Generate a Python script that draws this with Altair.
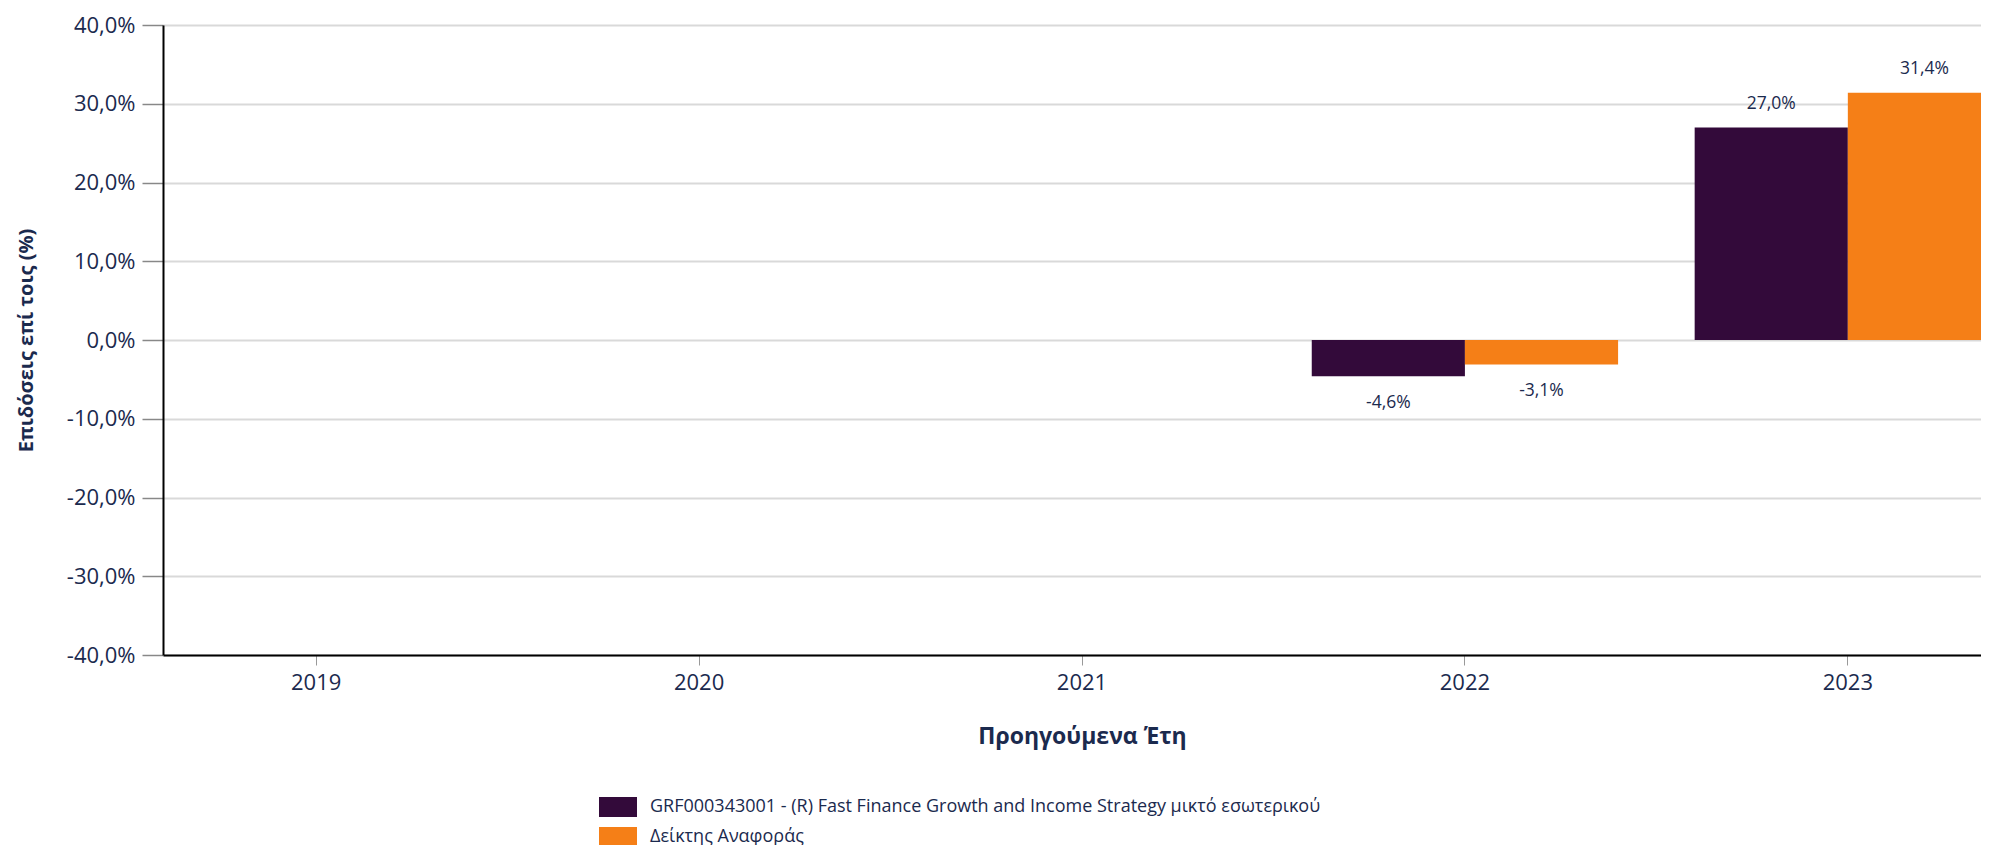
import altair as alt
import pandas as pd

# ---- data ----
years = ["2019", "2020", "2021", "2022", "2023"]
series_names = [
    "GRF000343001 - (R) Fast Finance Growth and Income Strategy μικτό εσωτερικού",
    "Δείκτης Αναφοράς",
]
fund_returns = [None, None, None, -4.6, 27.0]
index_returns = [None, None, None, -3.1, 31.4]
y_ticks = [-40, -30, -20, -10, 0, 10, 20, 30, 40]
colors = ["#330a3a", "#f57f17"]

NAVY = "#1b2a4e"
FONT = "Open Sans"

rows = []
for name, vals in zip(series_names, [fund_returns, index_returns]):
    for yr, v in zip(years, vals):
        if v is not None:
            rows.append({"year": yr, "series": name, "value": v,
                         "label": f"{v:.1f}%".replace(".", ",")})
df = pd.DataFrame(rows)

x_enc = alt.X(
    "year:N",
    scale=alt.Scale(domain=years, paddingInner=0.2, paddingOuter=0),
    title="Προηγούμενα Έτη",
    axis=alt.Axis(
        labelFontSize=22, labelFont=FONT, labelColor=NAVY, labelAngle=0,
        labelPadding=7, tickSize=10, tickColor="#999999", tickWidth=1,
        domainColor="black", domainWidth=2, grid=False,
        titleFontSize=23, titleFont=FONT, titleFontWeight="bold",
        titleColor=NAVY, titleY=81, titleBaseline="middle",
    ),
)
xoff_enc = alt.XOffset("series:N", scale=alt.Scale(domain=series_names), sort=series_names)
y_enc = alt.Y(
    "value:Q",
    scale=alt.Scale(domain=[-40, 40], nice=False),
    title="Επιδόσεις επί τοις (%)",
    axis=alt.Axis(
        values=y_ticks,
        labelExpr="(datum.value < 0 ? '-' : '') + replace(format(abs(datum.value), '.1f'), '.', ',') + '%'",
        labelFontSize=22, labelFont=FONT, labelColor=NAVY, labelPadding=7,
        tickSize=21, tickColor="#888888", tickWidth=1.5,
        domainColor="black", domainWidth=2,
        gridColor="#d9d9d9", gridWidth=2,
        titleFontSize=20, titleFont=FONT, titleFontWeight="bold", titleColor=NAVY,
        titleX=-137, titleY=315, titleAngle=270, titleBaseline="middle", titleAlign="center",
    ),
)
color_enc = alt.Color(
    "series:N",
    scale=alt.Scale(domain=series_names, range=colors),
    legend=alt.Legend(
        orient="none", legendX=436, legendY=763, title=None,
        symbolType="M-1,-0.53H1V0.53H-1Z", symbolSize=1444, symbolStrokeWidth=0,
        labelFontSize=18, labelFont=FONT, labelColor=NAVY,
        rowPadding=0, labelOffset=13, padding=0, labelLimit=0,
    ),
)

base = alt.Chart(df)

bars = base.mark_bar().encode(x=x_enc, xOffset=xoff_enc, y=y_enc, color=color_enc)

pos_labels = base.transform_filter("datum.value >= 0").mark_text(
    baseline="alphabetic", dy=-18.7, fontSize=17.5, font=FONT, color=NAVY
).encode(x=x_enc, xOffset=xoff_enc, y=y_enc, text="label:N")

neg_labels = base.transform_filter("datum.value < 0").mark_text(
    baseline="alphabetic", dy=32, fontSize=17.5, font=FONT, color=NAVY
).encode(x=x_enc, xOffset=xoff_enc, y=y_enc, text="label:N")

chart = alt.layer(bars, pos_labels, neg_labels).properties(
    width=1838,
    height=630,
    autosize=alt.AutoSizeParams(type="none"),
    padding={"left": 155, "top": 17, "right": -20, "bottom": 190},
    background="white",
).configure_view(stroke=None)

chart.save("out.html", embed_options={"renderer": "svg", "actions": False})
